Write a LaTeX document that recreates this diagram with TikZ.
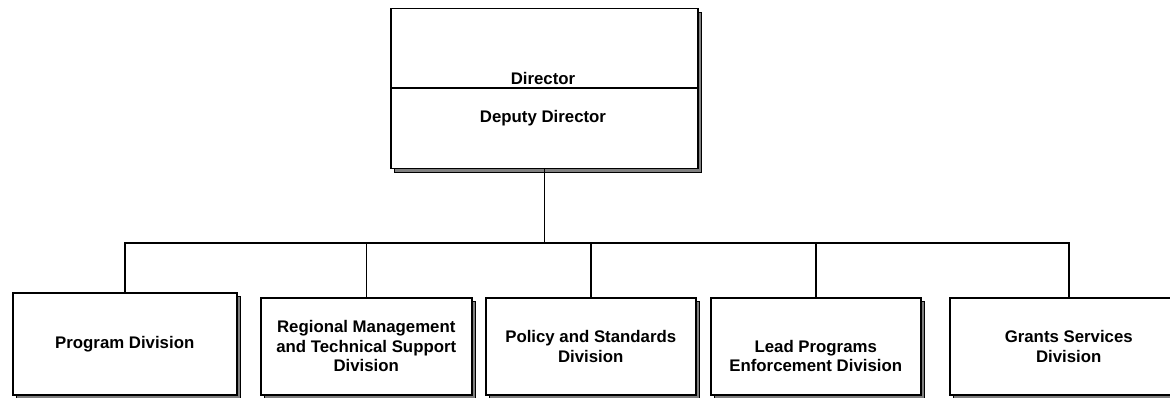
\documentclass[tikz,border=0pt]{standalone}
\usepackage{fontspec}
\setmainfont{Liberation Sans}
\usetikzlibrary{shadows}

\tikzset{
  unit/.style={draw, line width=1.5pt, fill=white, anchor=north west,
    inner sep=0pt, align=center,
    font=\bfseries\fontsize{16.8}{19.5}\selectfont,
    drop shadow={shadow xshift=4pt, shadow yshift=-4pt, fill=black!50,
      draw=black, line width=0.8pt, opacity=1}},
  caption/.style={font=\bfseries\fontsize{16.8}{19.5}\selectfont},
  link/.style={line width=1.5pt},
}

\begin{document}
\begin{tikzpicture}[x=1pt, y=-1pt]
  \useasboundingbox (0,0) rectangle (1170,398);

  % 1. The head office box
  \node[unit, minimum width=307pt, minimum height=160pt] (Dir) at (390,8) {};
  \draw[line width=1.5pt] (Dir.west |- 0,88) -- (Dir.east |- 0,88);
  \node[caption] (DirT) at (543,78) {Director};
  \node[caption] (DepT) at (543,118) {Deputy Director};

  % 2. The divisions
  \node[unit, minimum width=224pt, minimum height=102pt] (Prog) at (12,292) {Program Division};
  \node[unit, minimum width=211pt, minimum height=97pt] (Reg) at (260,297)
    {Regional Management\\and Technical Support\\Division};
  \node[unit, minimum width=210pt, minimum height=97pt] (Pol) at (485,297)
    {Policy and Standards\\Division};
  \node[unit, minimum width=210pt, minimum height=97pt] (Lead) at (710,297)
    {~\\[12pt]Lead Programs\\Enforcement Division};
  \node[unit, minimum width=238pt, minimum height=97pt] (Grants) at (949,297)
    {Grants Services\\Division};

  % 3. The lines between them
  \coordinate (Bus) at (Dir.south |- 0,243);
  \draw[link] (Dir.south) -- (Bus);
  \draw[link] (Prog.north) |- (Bus) -| (Grants.north);
  \foreach \n in {Reg,Pol,Lead}
    \draw[link] (\n.north) -- (\n.north |- Bus);
\end{tikzpicture}
\end{document}
